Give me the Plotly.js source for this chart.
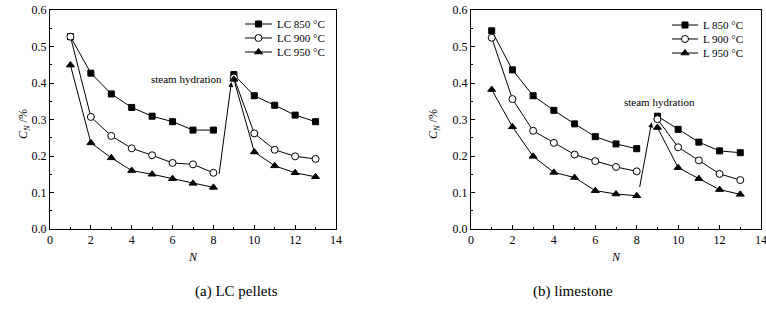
<!DOCTYPE html>
<html>
<head>
<meta charset="utf-8">
<script src="https://cdn.plot.ly/plotly-3.0.1.min.js"></script>
<style>html,body{margin:0;padding:0;background:#fff;}#chart{width:766px;height:325px;}</style>
</head>
<body>
<div id="chart"></div>
<script>
const cycles = [1,2,3,4,5,6,7,8,9,10,11,12,13];

const lc850 = [0.527,0.427,0.370,0.333,0.309,0.294,0.271,0.271,0.423,0.365,0.339,0.312,0.294];
const lc900 = [0.527,0.307,0.255,0.221,0.202,0.181,0.177,0.154,0.415,0.262,0.217,0.199,0.192];
const lc950 = [0.449,0.236,0.195,0.160,0.150,0.138,0.125,0.114,0.410,0.211,0.173,0.154,0.143];

const l850 = [0.543,0.436,0.365,0.325,0.288,0.253,0.233,0.220,0.309,0.273,0.238,0.214,0.209];
const l900 = [0.524,0.356,0.269,0.236,0.204,0.186,0.170,0.158,0.301,0.224,0.188,0.151,0.134];
const l950 = [0.382,0.280,0.199,0.155,0.141,0.105,0.096,0.091,0.278,0.168,0.138,0.108,0.095];

const lcNames = ['LC 850 °C','LC 900 °C','LC 950 °C'];
const lNames = ['L 850 °C','L 900 °C','L 950 °C'];
const xTicks = [0,2,4,6,8,10,12,14];
const yTicks = [0.0,0.1,0.2,0.3,0.4,0.5,0.6];

const FONT = 'Liberation Serif';
const split = 8; // steam hydration between cycle 8 and 9

const markerStyles = [
  {symbol: 'square', size: 6, color: '#000', line: {color: '#000', width: 1}},
  {symbol: 'circle', size: 7, color: '#fff', line: {color: '#000', width: 1}},
  {symbol: 'triangle-up', size: 7, color: '#000', line: {color: '#000', width: 1}}
];

function seg(xa, ya, name, mk, xaxis, yaxis) {
  return {
    x: xa, y: ya, name: name, type: 'scatter', mode: 'lines+markers',
    xaxis: xaxis, yaxis: yaxis, showlegend: false, hoverinfo: 'skip',
    line: {color: '#000', width: 1}, marker: mk, cliponaxis: false
  };
}

const traces = [];
const annotations = [];
// compact legend drawn on a hidden full-page pixel axis (x: 0..766, y: 0..325 downward)
const panels = [
  {series: [lc850, lc900, lc950], names: lcNames, xa: 'x', ya: 'y', legX: [245, 272], legY: [24, 38, 52]},
  {series: [l850, l900, l950], names: lNames, xa: 'x2', ya: 'y2', legX: [672, 698], legY: [25, 39, 53]}
];
panels.forEach(p => {
  p.series.forEach((ys, i) => {
    traces.push(seg(cycles.slice(0, split), ys.slice(0, split), p.names[i], markerStyles[i], p.xa, p.ya));
    traces.push(seg(cycles.slice(split), ys.slice(split), p.names[i], markerStyles[i], p.xa, p.ya));
    const ly = p.legY[i];
    traces.push({x: [p.legX[0], (p.legX[0] + p.legX[1]) / 2, p.legX[1]], y: [ly, ly, ly],
                 xaxis: 'x3', yaxis: 'y3', mode: 'lines+markers', showlegend: false, hoverinfo: 'skip',
                 line: {color: '#000', width: 1}, cliponaxis: false,
                 marker: Object.assign({}, markerStyles[i], {opacity: [0, 1, 0]})});
    annotations.push({xref: 'x3', yref: 'y3', x: p.legX[1] + 3, y: ly, xanchor: 'left', yanchor: 'middle',
                      text: p.names[i], showarrow: false, font: {family: FONT, size: 11, color: '#000'}});
  });
});

const yDom = [96/325, 315/325];
function xax(dom, anchor) {
  return {
    domain: dom, anchor: anchor, range: [0,14], tickvals: xTicks, ticktext: xTicks.map(String),
    ticks: 'inside', ticklen: 4, tickwidth: 1, tickcolor: '#000',
    minor: {dtick: 1, ticks: 'inside', ticklen: 2, tickcolor: '#000'},
    showline: true, mirror: true, linecolor: '#000', linewidth: 1,
    showgrid: false, zeroline: false, ticklabeloverflow: 'allow',
    tickfont: {family: FONT, size: 12, color: '#000'},
    title: {text: '<i>N</i>', font: {family: FONT, size: 12, color: '#000'}, standoff: 6}
  };
}
function yax(anchor) {
  return {
    domain: yDom, anchor: anchor, range: [0,0.6], tickvals: yTicks, ticktext: yTicks.map(v => v.toFixed(1)),
    ticks: 'inside', ticklen: 4, tickwidth: 1, tickcolor: '#000',
    minor: {dtick: 0.05, ticks: 'inside', ticklen: 2, tickcolor: '#000'},
    showline: true, mirror: true, linecolor: '#000', linewidth: 1,
    showgrid: false, zeroline: false,
    tickfont: {family: FONT, size: 12, color: '#000'}
  };
}

annotations.push(
  {xref: 'x', yref: 'y', axref: 'x', ayref: 'y', x: 8.88, y: 0.403, ax: 8.27, ay: 0.147,
   showarrow: true, arrowhead: 2, arrowsize: 1, arrowwidth: 1, arrowcolor: '#000', text: ''},
  {xref: 'x', yref: 'y', x: 6.7, y: 0.41, text: 'steam hydration', showarrow: false,
   font: {family: FONT, size: 11, color: '#000'}},
  {xref: 'x2', yref: 'y2', axref: 'x2', ayref: 'y2', x: 8.72, y: 0.292, ax: 8.13, ay: 0.111,
   showarrow: true, arrowhead: 2, arrowsize: 1, arrowwidth: 1, arrowcolor: '#000', text: ''},
  {xref: 'x2', yref: 'y2', x: 9.1, y: 0.349, text: 'steam hydration', showarrow: false,
   font: {family: FONT, size: 11, color: '#000'}},
  {xref: 'paper', yref: 'paper', x: 14/766, y: 1 - 124/325, textangle: -90, showarrow: false,
   text: '<i>C</i><sub><i>N</i></sub> /%', font: {family: FONT, size: 12, color: '#000'}},
  {xref: 'paper', yref: 'paper', x: 434/766, y: 1 - 124/325, textangle: -90, showarrow: false,
   text: '<i>C</i><sub><i>N</i></sub> /%', font: {family: FONT, size: 12, color: '#000'}},
  {xref: 'paper', yref: 'paper', x: 193/766, y: 1 - 302/325, showarrow: false,
   text: '(a) LC pellets', font: {family: FONT, size: 15, color: '#000'}},
  {xref: 'paper', yref: 'paper', x: 615/766, y: 1 - 302/325, showarrow: false,
   text: '(b) limestone', font: {family: FONT, size: 15, color: '#000'}}
);

const layout = {
  width: 766, height: 325,
  margin: {l: 0, r: 0, t: 0, b: 0},
  paper_bgcolor: '#fff', plot_bgcolor: 'rgba(0,0,0,0)',
  showlegend: false,
  font: {family: FONT, color: '#000'},
  xaxis: xax([50/766, 336/766], 'y'),
  yaxis: yax('x'),
  xaxis2: xax([471/766, 761/766], 'y2'),
  yaxis2: yax('x2'),
  xaxis3: {domain: [0, 1], range: [0, 766], anchor: 'y3', visible: false, fixedrange: true},
  yaxis3: {domain: [0, 1], range: [325, 0], anchor: 'x3', visible: false, fixedrange: true},
  annotations: annotations
};

Plotly.newPlot('chart', traces, layout, {displayModeBar: false, staticPlot: true});
</script>
</body>
</html>
